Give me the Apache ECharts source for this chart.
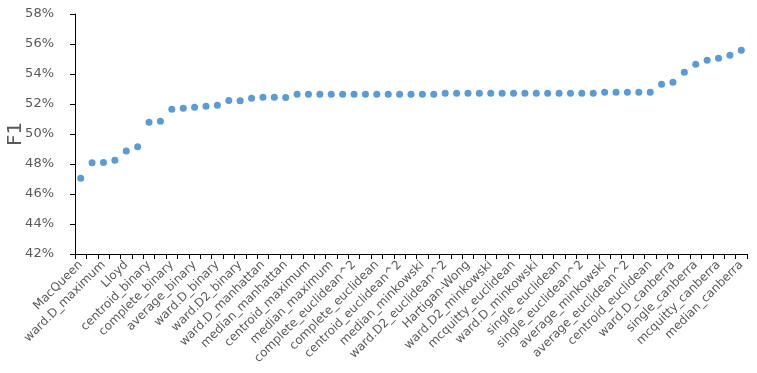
<!DOCTYPE html>
<html><head><meta charset="utf-8">
<script src="https://cdn.jsdelivr.net/npm/echarts@6/dist/echarts.min.js"></script>
<style>html,body{margin:0;padding:0;background:#fff}#c{width:757px;height:373px}</style>
</head><body><div id="c"></div>
<script>
var categories = [
 'MacQueen','ward.D2_maximum','ward.D_maximum','complete_maximum','Lloyd','average_maximum',
 'centroid_binary','single_binary','complete_binary','mcquitty_binary','average_binary','median_binary',
 'ward.D_binary','mcquitty_maximum','ward.D2_binary','single_maximum','ward.D_manhattan','ward.D2_manhattan',
 'median_manhattan','complete_manhattan','centroid_maximum','average_manhattan','median_maximum','mcquitty_manhattan',
 'complete_euclidean^2','single_manhattan','complete_euclidean','centroid_manhattan','centroid_euclidean^2','complete_minkowski',
 'median_minkowski','median_euclidean','ward.D2_euclidean^2','median_euclidean^2','Hartigan-Wong','ward.D2_euclidean',
 'ward.D2_minkowski','mcquitty_minkowski','mcquitty_euclidean','ward.D_euclidean','ward.D_minkowski','ward.D_euclidean^2',
 'single_euclidean','single_minkowski','single_euclidean^2','average_euclidean','average_minkowski','mcquitty_euclidean^2',
 'average_euclidean^2','centroid_minkowski','centroid_euclidean','ward.D2_canberra','ward.D_canberra','complete_canberra',
 'single_canberra','average_canberra','mcquitty_canberra','centroid_canberra','median_canberra'
];
var f1Values = [
 0.4705,0.4809,0.4810,0.4825,0.4887,0.4915,
 0.5078,0.5085,0.5165,0.5172,0.5178,0.5185,
 0.5191,0.5224,0.5222,0.5238,0.5245,0.5245,
 0.5243,0.5265,0.5265,0.5265,0.5265,0.5265,
 0.5265,0.5265,0.5265,0.5265,0.5265,0.5265,
 0.5265,0.5265,0.5271,0.5271,0.5271,0.5271,
 0.5271,0.5271,0.5271,0.5271,0.5271,0.5271,
 0.5271,0.5271,0.5271,0.5271,0.5278,0.5278,
 0.5278,0.5278,0.5278,0.5331,0.5345,0.5411,
 0.5465,0.5491,0.5505,0.5525,0.5558
];
var yTicks = {min: 0.42, max: 0.58, interval: 0.02};
var yName = 'F1';

var chart = echarts.init(document.getElementById('c'));
chart.setOption({
  animation: false,
  grid: {left: 75, right: 10, top: 14, bottom: 119, outerBoundsMode: 'none', containLabel: false},
  xAxis: {
    type: 'category', data: categories, boundaryGap: true,
    axisLine: {lineStyle: {color: '#000', width: 1}},
    axisTick: {show: true, interval: 0, length: 5, lineStyle: {color: '#000'}},
    axisLabel: {interval: 1, rotate: 45, fontSize: 12, color: '#595959', fontFamily: 'DejaVu Sans', margin: 9},
    splitLine: {show: false}
  },
  yAxis: {
    type: 'value', min: yTicks.min, max: yTicks.max, interval: yTicks.interval,
    name: yName, nameLocation: 'middle', nameGap: 49, nameRotate: 90, nameMoveOverlap: false,
    nameTextStyle: {fontSize: 20, color: '#595959', fontFamily: 'DejaVu Sans'},
    axisLine: {show: true, lineStyle: {color: '#000', width: 1}},
    axisTick: {show: true, length: 5, lineStyle: {color: '#000'}},
    axisLabel: {fontSize: 13, color: '#595959', fontFamily: 'DejaVu Sans', margin: 21,
      formatter: function (v) { return Math.round(v * 100) + '%'; }},
    splitLine: {show: false}
  },
  series: [{
    type: 'scatter', data: f1Values, symbol: 'circle', symbolSize: 7,
    itemStyle: {color: '#5B9BD5', opacity: 1}
  }]
});
</script></body></html>
